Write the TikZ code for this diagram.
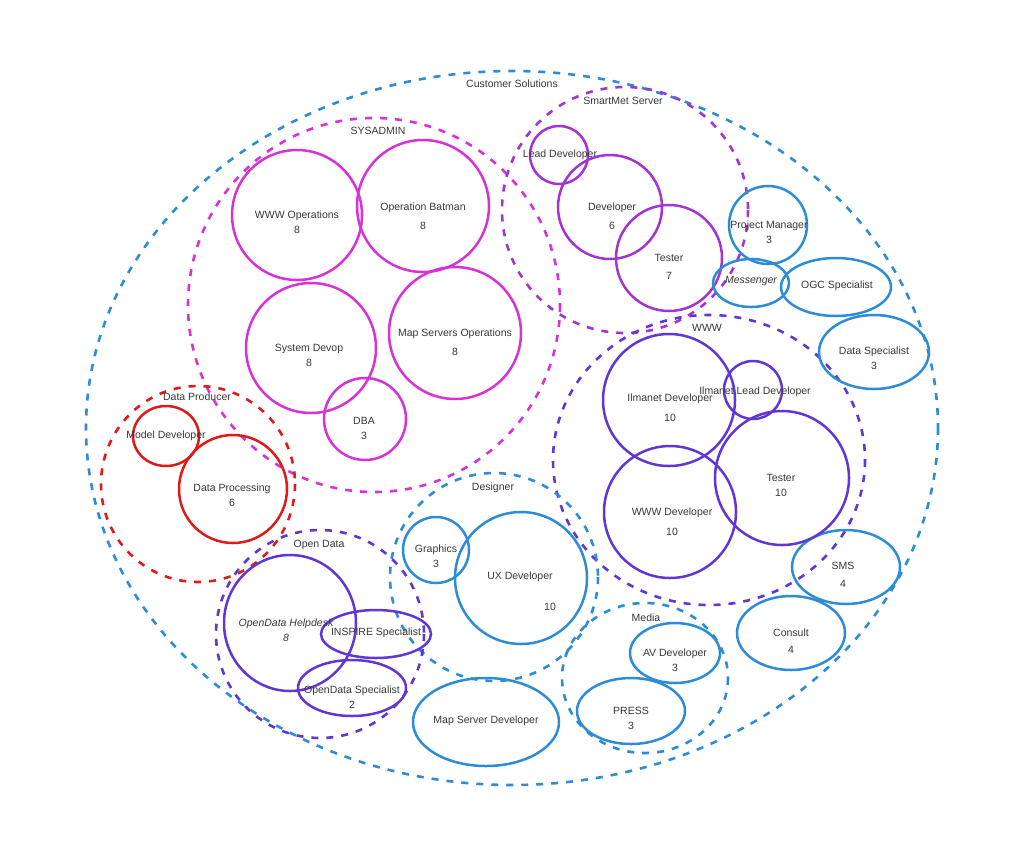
\documentclass[tikz,border=0pt]{standalone}
\usepackage{fontspec}
\setmainfont{Liberation Sans}
\definecolor{custblue}{RGB}{45,140,215}
\definecolor{sysmag}{RGB}{215,50,215}
\definecolor{smartpurple}{RGB}{165,50,210}
\definecolor{wwwviolet}{RGB}{95,55,215}
\definecolor{prodred}{RGB}{225,25,25}
\definecolor{labelgray}{RGB}{55,55,55}

\begin{document}
\begin{tikzpicture}[x=1pt,y=-1pt,
    group/.style={line width=2.6pt, dash pattern=on 7pt off 8pt},
    role/.style={line width=2.5pt},
    lbl/.style={text=labelgray, font=\fontsize{10.5}{15}\selectfont, align=center, inner sep=0pt}]
    \useasboundingbox (0,0) rectangle (1024,855);
    % group centres
    \coordinate (Cust) at (512,428);
    \coordinate (Sys) at (374,305);
    \coordinate (Smart) at (625,210);
    \coordinate (Www) at (709,460);
    \coordinate (Media) at (645,678);
    \coordinate (Design) at (494,577);
    \coordinate (Prod) at (198,484);
    \coordinate (Open) at (320,634);
    % groups
    \draw[group, custblue] (Cust) ellipse[x radius=426, y radius=357];
    \draw[group, sysmag] (Sys) ellipse[x radius=186, y radius=187];
    \draw[group, smartpurple] (Smart) circle[radius=123];
    \draw[group, wwwviolet] (Www) ellipse[x radius=156, y radius=145];
    \draw[group, custblue] (Media) ellipse[x radius=83, y radius=75];
    \draw[group, custblue] (Design) circle[radius=104];
    \draw[group, prodred] (Prod) ellipse[x radius=97, y radius=98];
    \draw[group, wwwviolet] (Open) circle[radius=104];
    \node[lbl] (custL) at (512,84) {Customer Solutions};
    \node[lbl] (sysL) at (378,131) {SYSADMIN};
    \node[lbl] (smartL) at (623,101) {SmartMet Server};
    \node[lbl] (wwwL) at (707,328) {WWW};
    \node[lbl] (mediaL) at (646,618) {Media};
    \node[lbl] (designL) at (493,488) {Designer};
    \node[lbl] (prodL) at (197,397) {Data Producer};
    \node[lbl] (openL) at (319,545) {Open Data};
    % SYSADMIN
    \draw[role, sysmag] (297,215) circle[radius=65];
    \draw[role, sysmag] (423,206) circle[radius=66];
    \draw[role, sysmag] (311,348) circle[radius=65];
    \draw[role, sysmag] (455,333) circle[radius=66];
    \draw[role, sysmag] (365,419) circle[radius=41];
    \node[lbl] (wwwops) at (297,222) {WWW Operations\\8};
    \node[lbl] (batman) at (423,216) {Operation Batman\\[4pt]8};
    \node[lbl] (devop) at (309,355) {System Devop\\8};
    \node[lbl] (mapops) at (455,342) {Map Servers Operations\\[4pt]8};
    \node[lbl] (dba) at (364,428) {DBA\\3};
    % SmartMet Server
    \draw[role, smartpurple] (559,155) circle[radius=29];
    \draw[role, smartpurple] (610,207) circle[radius=52];
    \draw[role, smartpurple] (669,258) circle[radius=53];
    \node[lbl] (smartlead) at (560,155) {Lead Developer};
    \node[lbl] (smartdev) at (612,216) {Developer\\[4pt]6};
    \node[lbl] (smarttest) at (669,267) {Tester\\[3pt]7};
    % loose roles
    \draw[role, custblue] (768,225) circle[radius=39];
    \draw[role, custblue] (751,283) ellipse[x radius=38, y radius=24];
    \draw[role, custblue] (836,287) ellipse[x radius=55, y radius=29];
    \draw[role, custblue] (874,352) ellipse[x radius=55, y radius=37];
    \draw[role, custblue] (846,567) ellipse[x radius=54, y radius=37];
    \draw[role, custblue] (791,633) ellipse[x radius=54, y radius=37];
    \draw[role, custblue] (486,722) ellipse[x radius=73, y radius=44];
    \node[lbl] (pm) at (769,232) {Project Manager\\3};
    \node[lbl] (msg) at (751,281) {\itshape Messenger};
    \node[lbl] (ogc) at (837,286) {OGC Specialist};
    \node[lbl] (dataspec) at (874,358) {Data Specialist\\3};
    \node[lbl] (sms) at (843,575) {SMS\\[3pt]4};
    \node[lbl] (consult) at (791,641) {Consult\\[2pt]4};
    \node[lbl] (mapdev) at (486,721) {Map Server Developer};
    % WWW
    \draw[role, wwwviolet] (669,400) circle[radius=66];
    \draw[role, wwwviolet] (753,390) circle[radius=29];
    \draw[role, wwwviolet] (782,478) circle[radius=67];
    \draw[role, wwwviolet] (670,512) circle[radius=66];
    \node[lbl] (ilmdev) at (670,408) {Ilmanet Developer\\[5pt]10};
    \node[lbl] (ilmlead) at (755,392) {Ilmanet Lead Developer};
    \node[lbl] (wwwtest) at (781,485) {Tester\\10};
    \node[lbl] (wwwdev) at (672,522) {WWW Developer\\[5pt]10};
    % Media
    \draw[role, custblue] (675,653) ellipse[x radius=45, y radius=30];
    \draw[role, custblue] (631,711) ellipse[x radius=54, y radius=33];
    \node[lbl] (avdev) at (675,660) {AV Developer\\3};
    \node[lbl] (press) at (631,718) {PRESS\\3};
    % Designer
    \draw[role, custblue] (436,550) circle[radius=33];
    \draw[role, custblue] (521,578) circle[radius=66];
    \node[lbl] (graphics) at (436,556) {Graphics\\3};
    \node[lbl] (uxdev) at (520,577) {UX Developer};
    \node[lbl] (uxnum) at (550,607) {10};
    % Data Producer
    \draw[role, prodred] (166,436) ellipse[x radius=33, y radius=30];
    \draw[role, prodred] (233,489) circle[radius=54];
    \node[lbl] (modeldev) at (166,436) {Model Developer};
    \node[lbl] (dataproc) at (232,495) {Data Processing\\6};
    % Open Data
    \draw[role, wwwviolet] (290,623) ellipse[x radius=66, y radius=68];
    \draw[role, wwwviolet] (376,634) ellipse[x radius=55, y radius=24];
    \draw[role, wwwviolet] (352,688) ellipse[x radius=54, y radius=28];
    \node[lbl] (helpdesk) at (286,630) {\itshape OpenData Helpdesk\\\itshape 8};
    \node[lbl] (inspire) at (376,633) {INSPIRE Specialist};
    \node[lbl] (openspec) at (352,697) {OpenData Specialist\\2};
\end{tikzpicture}
\end{document}
